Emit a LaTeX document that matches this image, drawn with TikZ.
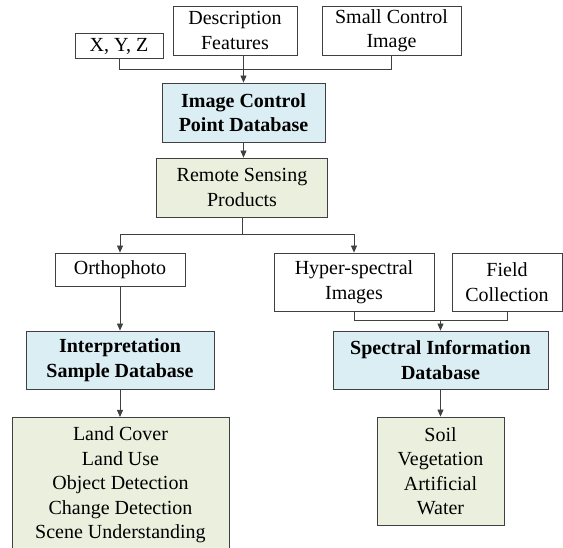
\documentclass[tikz,border=0pt]{standalone}
\usepackage{fontspec}
\setmainfont{Liberation Serif}
\usetikzlibrary{arrows.meta,calc}
\definecolor{boxblue}{HTML}{DBEEF4}
\definecolor{boxgreen}{HTML}{EBF0DE}
\definecolor{lincol}{HTML}{404040}
\begin{document}
\begin{tikzpicture}[x=1pt,y=-1pt,
  every node/.style={font=\fontsize{20}{24.5}\selectfont, align=center, inner sep=0pt},
  box/.style={draw=lincol, line width=0.8pt, fill=white, minimum width=#1},
  bluebox/.style={box=#1, fill=boxblue, font=\fontsize{20}{24.5}\selectfont\bfseries},
  greenbox/.style={box=#1, fill=boxgreen},
  conn/.style={draw=lincol, line width=0.8pt},
  arr/.style={conn, -{Triangle[length=7pt,width=6pt]}}]
\useasboundingbox (0,0) rectangle (563,548);

% top row
\node[box=88, minimum height=25] (xyz) at (119,46) {X, Y, Z};
\node[box=124, minimum height=49] (desc) at (235,30.5) {Description\\Features};
\node[box=139, minimum height=49] (small) at (391.5,30.5) {Small Control\\Image};

\node[bluebox=163, minimum height=59] (icp) at (243.5,112.5) {Image Control\\Point Database};
\node[greenbox=171, minimum height=59] (rsp) at (242,187.5) {Remote Sensing\\Products};

\node[box=130, minimum height=33] (ortho) at (120,269.5) {Orthophoto};
\node[box=160, minimum height=58] (hyper) at (354,282) {Hyper-spectral\\Images};
\node[box=110, minimum height=58] (field) at (507,282) {Field\\Collection};

\node[bluebox=188, minimum height=58] (isd) at (120,360) {Interpretation\\Sample Database};
\node[bluebox=215, minimum height=58] (sid) at (440.5,360) {Spectral Information\\Database};

\node[greenbox=217, minimum height=135, anchor=north] (land) at (120.5,417)
  {Land Cover\\Land Use\\Object Detection\\Change Detection\\Scene Understanding};
\node[greenbox=127, minimum height=108] (soil) at (440.5,471)
  {Soil\\Vegetation\\Artificial\\Water};

% connectors
\coordinate (j1) at ($(icp.north)+(0,-13)$);
\draw[conn] (xyz.south) |- (j1) -| (small.south);
\draw[arr] (desc.south -| icp.north) -- (icp.north);

\draw[arr] (icp.south) -- (icp.south |- rsp.north);

\coordinate (j2) at ($(rsp.south)+(0,17.5)$);
\draw[arr] (rsp.south) -- (j2) -| (ortho.north);
\draw[arr] (j2) -| (hyper.north);

\draw[arr] (ortho.south) -- (isd.north);

\coordinate (j3) at ($(sid.north)+(0,-10)$);
\draw[conn] (hyper.south) |- (j3) -| (field.south);
\draw[arr] (j3) -- (sid.north);

\draw[arr] (isd.south) -- (isd.south |- land.north);
\draw[arr] (sid.south) -- (soil.north);
\end{tikzpicture}
\end{document}
